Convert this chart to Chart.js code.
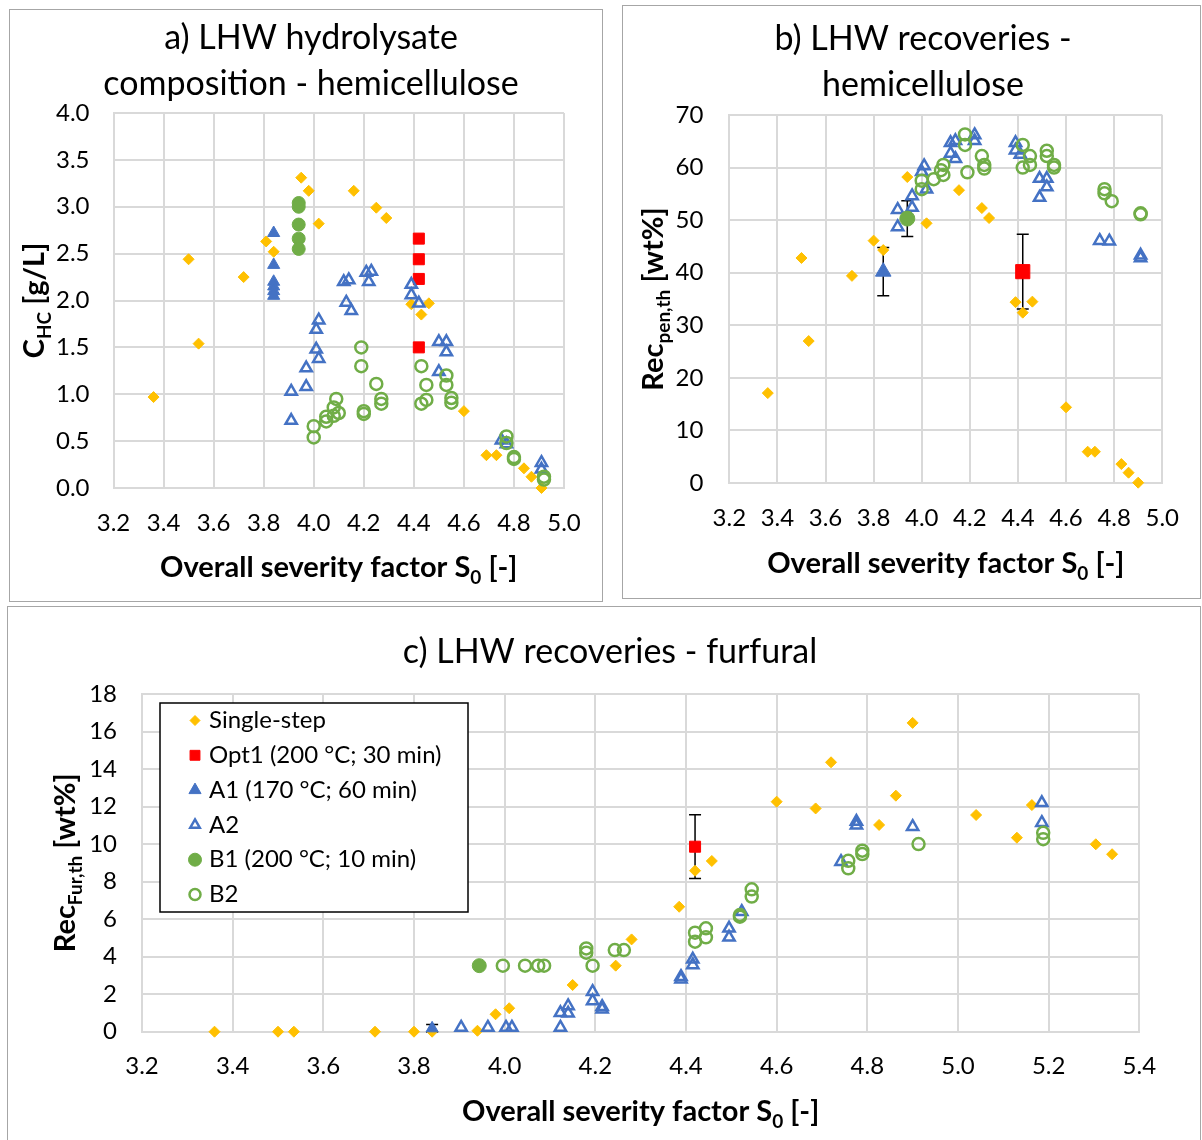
<!DOCTYPE html>
<html>
<head>
<meta charset="utf-8">
<script src="https://cdn.jsdelivr.net/npm/chart.js@4.4.1/dist/chart.umd.min.js"></script>
<style>
  body { margin: 0; background: #fff; width: 1202px; height: 1140px; position: relative; overflow: hidden; }
  .panel { position: absolute; border: 1px solid #a6a6a6; box-sizing: border-box; }
  canvas { position: absolute; }
</style>
</head>
<body>
<div class="panel" style="left:9px;top:9px;width:594px;height:593px"></div>
<div class="panel" style="left:622px;top:5px;width:579px;height:594px"></div>
<div class="panel" style="left:7px;top:606px;width:1194px;height:540px"></div>
<canvas id="chartA" width="593" height="592" style="left:9px;top:9px"></canvas>
<canvas id="chartB" width="578" height="593" style="left:622px;top:5px"></canvas>
<canvas id="chartC" width="1192" height="534" style="left:8px;top:606px"></canvas>
<script>
// values: [S0, value]
const aSingle = [[3.36,0.97],[3.50,2.44],[3.54,1.54],[3.72,2.25],[3.81,2.63],[3.84,2.52],[3.95,3.31],[3.98,3.17],[4.02,2.82],[4.16,3.17],[4.25,2.99],[4.29,2.88],[4.39,1.96],[4.46,1.97],[4.43,1.85],[4.60,0.82],[4.69,0.35],[4.73,0.35],[4.84,0.21],[4.87,0.12],[4.91,0.0]];
const aOpt1 = [[4.42,2.66],[4.42,2.44],[4.42,2.23],[4.42,1.50]];
const aA1 = [[3.84,2.72],[3.84,2.38],[3.84,2.20],[3.84,2.15],[3.84,2.10],[3.84,2.05]];
const aA2 = [[4.12,2.20],[4.14,2.22],[4.21,2.30],[4.23,2.31],[4.22,2.20],[4.13,1.98],[4.15,1.89],[4.02,1.79],[4.01,1.69],[4.01,1.48],[4.02,1.38],[3.97,1.28],[3.97,1.08],[3.91,1.03],[3.91,0.72],[4.39,2.17],[4.39,2.06],[4.42,1.97],[4.50,1.56],[4.53,1.56],[4.53,1.45],[4.50,1.24],[4.75,0.51],[4.77,0.47],[4.91,0.27],[4.91,0.20]];
const aB1 = [[3.94,3.04],[3.94,3.00],[3.94,2.81],[3.94,2.66],[3.94,2.55]];
const aB2 = [[4.19,1.50],[4.19,1.30],[4.25,1.11],[4.27,0.95],[4.27,0.90],[4.20,0.82],[4.20,0.79],[4.09,0.95],[4.08,0.86],[4.10,0.80],[4.08,0.77],[4.05,0.76],[4.05,0.71],[4.00,0.66],[4.00,0.54],[4.43,1.30],[4.45,1.10],[4.43,0.90],[4.45,0.94],[4.53,1.20],[4.53,1.10],[4.55,0.96],[4.55,0.91],[4.77,0.55],[4.77,0.48],[4.80,0.33],[4.80,0.31],[4.92,0.09],[4.92,0.12]];

const bSingle = [[3.36,17.1],[3.50,42.8],[3.53,27.0],[3.71,39.4],[3.80,46.1],[3.84,44.3],[3.94,58.2],[4.02,49.4],[4.155,55.7],[4.25,52.3],[4.28,50.4],[4.39,34.4],[4.46,34.5],[4.42,32.4],[4.60,14.4],[4.69,5.95],[4.72,5.95],[4.83,3.6],[4.86,1.96],[4.90,0.06]];
const bOpt1 = [[4.42,40.2]];
const bOpt1Err = [7.1];
const bA1 = [[3.84,40.2]];
const bA1Err = [4.6];
const bA2 = [[3.90,48.7],[3.90,52.0],[3.96,52.4],[3.96,54.6],[4.01,60.3],[4.00,59.2],[4.02,55.9],[4.12,64.7],[4.14,65.1],[4.12,62.7],[4.14,61.7],[4.22,66.2],[4.22,65.1],[4.39,64.7],[4.39,63.3],[4.41,62.5],[4.49,57.9],[4.52,57.9],[4.52,56.3],[4.49,54.3],[4.74,46.1],[4.78,46.0],[4.91,43.3],[4.91,42.8]];
const bB1 = [[3.94,50.3]];
const bB1Err = [3.4];
const bB2 = [[4.00,57.5],[4.00,55.9],[4.05,57.8],[4.08,59.5],[4.09,60.5],[4.09,58.6],[4.18,66.3],[4.18,64.3],[4.19,59.1],[4.25,62.2],[4.26,60.5],[4.26,59.8],[4.42,64.3],[4.45,62.2],[4.45,60.5],[4.42,60.0],[4.52,63.2],[4.52,62.2],[4.55,60.5],[4.55,60.0],[4.76,55.9],[4.76,55.1],[4.79,53.6],[4.91,51.3],[4.91,51.1]];

const cSingle = [[3.36,0],[3.50,0],[3.535,0],[3.714,0],[3.80,0],[3.84,0],[3.94,0.05],[3.98,0.93],[4.01,1.25],[4.15,2.49],[4.245,3.52],[4.28,4.92],[4.385,6.66],[4.42,8.58],[4.457,9.1],[4.60,12.26],[4.686,11.9],[4.72,14.36],[4.826,11.02],[4.863,12.58],[4.90,16.46],[5.04,11.55],[5.13,10.34],[5.163,12.08],[5.304,9.99],[5.34,9.46]];
const cOpt1 = [[4.42,9.86]];
const cOpt1Err = [1.7];
const cA1 = [[3.84,0.18]];
const cA1Err = [0.2];
const cA2 = [[3.904,0.23],[3.963,0.23],[4.003,0.23],[4.016,0.23],[4.123,0.23],[4.123,1.01],[4.14,1.37],[4.14,0.98],[4.194,2.13],[4.194,1.64],[4.215,1.33],[4.215,1.2],[4.389,2.93],[4.389,2.8],[4.415,3.86],[4.415,3.56],[4.495,5.51],[4.495,5.03],[4.523,6.4],[4.742,9.06],[4.776,11.2],[4.776,11.0],[4.90,10.93],[5.185,12.2],[5.185,11.14]];
const cB1 = [[3.944,3.52]];
const cB2 = [[3.996,3.52],[4.045,3.52],[4.074,3.52],[4.087,3.52],[4.194,3.52],[4.18,4.44],[4.18,4.21],[4.243,4.35],[4.263,4.35],[4.42,5.28],[4.42,4.8],[4.444,5.51],[4.444,5.03],[4.519,6.13],[4.519,6.22],[4.545,7.59],[4.545,7.2],[4.758,9.11],[4.758,8.71],[4.789,9.65],[4.789,9.47],[4.913,10.0],[5.188,10.6],[5.188,10.26]];

const seriesNames = ['Single-step', 'Opt1 (200 °C; 30 min)', 'A1 (170 °C; 60 min)', 'A2', 'B1 (200 °C; 10 min)', 'B2'];

const FONT = 'Lato, "Open Sans", sans-serif';
const GOLD = '#FFC000', RED = '#FF0000', BLUE = '#4472C4', GREEN = '#70AD47', NONE = 'rgba(0,0,0,0)';
Chart.defaults.font.family = FONT;
Chart.defaults.color = '#000';

function series(label, points, style, order) {
  return Object.assign({
    label: label,
    data: points.map(p => ({ x: p[0], y: p[1] })),
    clip: false,
    order: order
  }, style);
}

function marker(shape, r, fill, stroke, bw) {
  return { pointStyle: shape, pointRadius: r, pointHoverRadius: r, pointBackgroundColor: fill, pointBorderColor: stroke, pointBorderWidth: bw };
}

// draws a title made of normal and subscript parts, centred on cx, cap-centre at cy
function drawParts(ctx, parts, cx, cy) {
  const main = 'bold 29px ' + FONT, sub = 'bold 19px ' + FONT;
  let total = 0;
  parts.forEach(p => { ctx.font = p[1] ? sub : main; total += ctx.measureText(p[0]).width; });
  let x = cx - total / 2;
  ctx.textAlign = 'left';
  ctx.textBaseline = 'alphabetic';
  parts.forEach(p => {
    ctx.font = p[1] ? sub : main;
    ctx.fillText(p[0], x, cy + 10.5 + (p[1] ? 7 : 0));
    x += ctx.measureText(p[0]).width;
  });
}

// chart title + axis titles (the axis titles need subscripts)
const titlesPlugin = {
  id: 'titles',
  afterDraw(chart, args, opts) {
    const ctx = chart.ctx, ca = chart.chartArea;
    ctx.save();
    ctx.fillStyle = '#000';
    ctx.font = '34px ' + FONT;
    ctx.textAlign = 'center';
    ctx.textBaseline = 'middle';
    opts.title.forEach((line, i) => ctx.fillText(line, opts.titleX, opts.titleY + i * 46));
    drawParts(ctx, opts.x, (ca.left + ca.right) / 2, opts.xPos);
    ctx.translate(opts.yPos, (ca.top + ca.bottom) / 2);
    ctx.rotate(-Math.PI / 2);
    drawParts(ctx, opts.y, 0, 0);
    ctx.restore();
  }
};

const errorBarPlugin = {
  id: 'errorBars',
  beforeDatasetsDraw(chart, args, opts) {
    if (!opts.bars) return;
    const ctx = chart.ctx, xs = chart.scales.x, ys = chart.scales.y;
    ctx.save();
    ctx.strokeStyle = '#000';
    ctx.lineWidth = 1.5;
    opts.bars.forEach(b => {
      chart.data.datasets[b.ds].data.forEach((p, i) => {
        const e = b.err[i];
        if (!e) return;
        const px = xs.getPixelForValue(p.x);
        const top = ys.getPixelForValue(p.y + e), bot = ys.getPixelForValue(p.y - e);
        ctx.beginPath();
        ctx.moveTo(px, top); ctx.lineTo(px, bot);
        ctx.moveTo(px - 6, top); ctx.lineTo(px + 6, top);
        ctx.moveTo(px - 6, bot); ctx.lineTo(px + 6, bot);
        ctx.stroke();
      });
    });
    ctx.restore();
  }
};

const boxLegendPlugin = {
  id: 'boxLegend',
  afterDraw(chart, args, opts) {
    if (!opts.items) return;
    const ctx = chart.ctx, ca = chart.chartArea;
    const x0 = ca.left + opts.dx, y0 = ca.top + opts.dy;
    ctx.save();
    ctx.fillStyle = '#fff';
    ctx.fillRect(x0, y0, opts.w, opts.h);
    ctx.strokeStyle = '#000';
    ctx.lineWidth = 1.5;
    ctx.strokeRect(x0, y0, opts.w, opts.h);
    ctx.font = '24px ' + FONT;
    ctx.textBaseline = 'middle';
    ctx.textAlign = 'left';
    opts.items.forEach((it, i) => {
      const ds = chart.data.datasets[it.ds];
      const y = y0 + 17.5 + i * 34.8;
      ctx.fillStyle = ds.pointBackgroundColor;
      ctx.strokeStyle = ds.pointBorderColor;
      ctx.lineWidth = ds.pointBorderWidth;
      Chart.helpers.drawPoint(ctx, { pointStyle: ds.pointStyle, radius: it.r, borderWidth: ds.pointBorderWidth, rotation: 0 }, x0 + 35, y);
      ctx.fillStyle = '#000';
      ctx.fillText(ds.label, x0 + 49, y);
    });
    ctx.restore();
  }
};

function makeChart(id, cfg) {
  return new Chart(document.getElementById(id), {
    type: 'scatter',
    data: { datasets: cfg.datasets },
    options: {
      responsive: false,
      animation: false,
      events: [],
      layout: { padding: { left: 0, right: cfg.padRight, top: cfg.padTop, bottom: 0 } },
      plugins: {
        legend: { display: false },
        tooltip: { enabled: false },
        title: { display: false },
        titles: {
          title: cfg.title, titleX: cfg.titleX, titleY: cfg.titleY,
          x: cfg.xTitle, y: cfg.yTitle, xPos: cfg.xTitlePos, yPos: cfg.yTitlePos
        },
        errorBars: { bars: cfg.errorBars },
        boxLegend: cfg.legend || {}
      },
      scales: {
        x: {
          type: 'linear',
          min: cfg.xMin, max: cfg.xMax,
          ticks: { stepSize: 0.2, padding: cfg.xTickPad, font: { size: 24 }, color: '#000', callback: v => v.toFixed(1) },
          grid: { color: '#D9D9D9', lineWidth: 2, drawTicks: false },
          border: { color: '#D9D9D9', width: 2 },
          afterFit: s => { s.height = cfg.xHeight; }
        },
        y: {
          type: 'linear',
          min: cfg.yMin, max: cfg.yMax,
          ticks: { stepSize: cfg.yStep, padding: cfg.yTickPad, font: { size: 24 }, color: '#000', callback: cfg.yFormat },
          grid: { color: '#D9D9D9', lineWidth: 2, drawTicks: false },
          border: { color: '#D9D9D9', width: 2 },
          afterFit: s => { s.width = cfg.yWidth; }
        }
      }
    },
    plugins: [errorBarPlugin, titlesPlugin, boxLegendPlugin]
  });
}

const xTitleParts = [['Overall severity factor S', 0], ['0', 1], [' [-]', 0]];

// a) hydrolysate composition
makeChart('chartA', {
  title: ['a) LHW hydrolysate', 'composition - hemicellulose'], titleX: 302, titleY: 29,
  padTop: 104, padRight: 38, yWidth: 104.5, xHeight: 113,
  xMin: 3.2, xMax: 5.0, yMin: 0, yMax: 4, yStep: 0.5, yFormat: v => v.toFixed(1),
  xTickPad: 21, yTickPad: 24,
  xTitle: xTitleParts, xTitlePos: 557,
  yTitle: [['C', 0], ['HC', 1], [' [g/L]', 0]], yTitlePos: 24,
  datasets: [
    series(seriesNames[0], aSingle, marker('rectRot', 5.5, GOLD, GOLD, 1), 6),
    series(seriesNames[1], aOpt1, marker('rect', 7.8, RED, RED, 1), 5),
    series(seriesNames[2], aA1, marker('triangle', 7, BLUE, BLUE, 1), 4),
    series(seriesNames[3], aA2, marker('triangle', 6.5, NONE, BLUE, 2.5), 3),
    series(seriesNames[4], aB1, marker('circle', 6.5, GREEN, GREEN, 1), 2),
    series(seriesNames[5], aB2, marker('circle', 6, NONE, GREEN, 2.5), 1)
  ]
});

// b) hemicellulose recoveries
makeChart('chartB', {
  title: ['b) LHW recoveries -', 'hemicellulose'], titleX: 301, titleY: 34,
  padTop: 110, padRight: 36, yWidth: 107.3, xHeight: 115,
  xMin: 3.2, xMax: 5.0, yMin: 0, yMax: 70, yStep: 10, yFormat: v => v,
  xTickPad: 21, yTickPad: 26,
  xTitle: xTitleParts, xTitlePos: 557,
  yTitle: [['Rec', 0], ['pen,th', 1], [' [wt%]', 0]], yTitlePos: 30,
  errorBars: [{ ds: 1, err: bOpt1Err }, { ds: 2, err: bA1Err }, { ds: 4, err: bB1Err }],
  datasets: [
    series(seriesNames[0], bSingle, marker('rectRot', 5.5, GOLD, GOLD, 1), 6),
    series(seriesNames[1], bOpt1, marker('rect', 10, RED, RED, 1), 5),
    series(seriesNames[2], bA1, marker('triangle', 9, BLUE, BLUE, 1), 4),
    series(seriesNames[3], bA2, marker('triangle', 6.5, NONE, BLUE, 2.5), 3),
    series(seriesNames[4], bB1, marker('circle', 7.5, GREEN, GREEN, 1), 2),
    series(seriesNames[5], bB2, marker('circle', 6, NONE, GREEN, 2.5), 1)
  ]
});

// c) furfural recoveries
makeChart('chartC', {
  title: ['c) LHW recoveries - furfural'], titleX: 602, titleY: 46,
  padTop: 88, padRight: 60.7, yWidth: 134, xHeight: 108.3,
  xMin: 3.2, xMax: 5.4, yMin: 0, yMax: 18, yStep: 2, yFormat: v => v,
  xTickPad: 20, yTickPad: 25,
  xTitle: xTitleParts, xTitlePos: 504,
  yTitle: [['Rec', 0], ['Fur,th', 1], [' [wt%]', 0]], yTitlePos: 56,
  errorBars: [{ ds: 1, err: cOpt1Err }, { ds: 2, err: cA1Err }],
  legend: {
    dx: 18, dy: 9, w: 308, h: 209,
    items: [{ ds: 0, r: 5 }, { ds: 1, r: 7 }, { ds: 2, r: 7 }, { ds: 3, r: 5.5 }, { ds: 4, r: 6.5 }, { ds: 5, r: 5.5 }]
  },
  datasets: [
    series(seriesNames[0], cSingle, marker('rectRot', 5.5, GOLD, GOLD, 1), 6),
    series(seriesNames[1], cOpt1, marker('rect', 7.8, RED, RED, 1), 5),
    series(seriesNames[2], cA1, marker('triangle', 7, BLUE, BLUE, 1), 4),
    series(seriesNames[3], cA2, marker('triangle', 6.5, NONE, BLUE, 2.5), 3),
    series(seriesNames[4], cB1, marker('circle', 7, GREEN, GREEN, 1), 2),
    series(seriesNames[5], cB2, marker('circle', 6, NONE, GREEN, 2.5), 1)
  ]
});
</script>
</body>
</html>
